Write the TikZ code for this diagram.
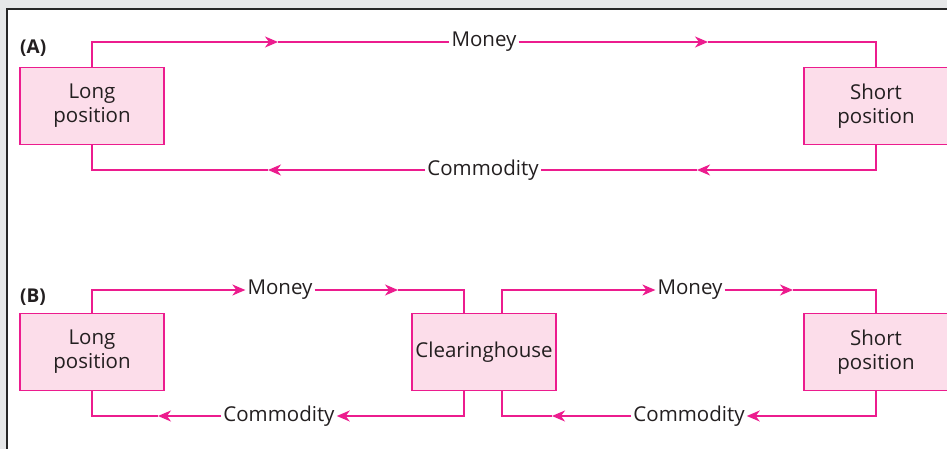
\documentclass[tikz,border=0pt]{standalone}
\usepackage{fontspec}
\setmainfont{Open Sans}
\usetikzlibrary{arrows.meta}
\definecolor{mag}{HTML}{EC1C8E}
\definecolor{boxfill}{HTML}{FCDDEA}
\definecolor{txt}{HTML}{231F20}
\definecolor{bg}{HTML}{E6E7E8}
\begin{document}
\begin{tikzpicture}[x=1pt,y=-1pt,
  posbox/.style={draw=mag,line width=1.6pt,fill=boxfill,minimum width=144pt,minimum height=77pt,
     inner sep=0pt,align=center,text=txt,font=\fontsize{20.5}{24}\selectfont},
  lbl/.style={inner sep=2pt,text=txt,font=\fontsize{20.5}{24}\selectfont},
  conn/.style={draw=mag,line width=1.3pt},
  arr/.style={conn,-{Stealth[length=13pt,width=11pt,inset=4pt]}},
  tag/.style={text=txt,font=\fontsize{19}{22}\selectfont\bfseries,anchor=west,inner sep=0pt}]
\useasboundingbox (0,0) rectangle (947,449);
\fill[bg] (0,0) rectangle (947,449);
\filldraw[fill=white,draw=black!85,line width=1.8pt] (7,9) rectangle (970,470);
% (A)
\node[tag] (tagA) at (20,48) {(A)};
\node[posbox] (longA) at (92,106) {Long\\position};
\node[posbox] (shortA) at (876,106) {Short\\position};
\node[lbl] (moneyA) at (484,42) {Money};
\node[lbl] (comA) at (483,170) {Commodity};
\coordinate (a1) at (278,42);
\coordinate (a2) at (708,42);
\coordinate (a3) at (697,170);
\coordinate (a4) at (268,170);
\draw[arr] (longA.north) |- (a1);
\draw[conn] (a1) -- (moneyA.west);
\draw[arr] (moneyA.east) -- (a2);
\draw[conn] (a2) -| (shortA.north);
\draw[arr] (shortA.south) |- (a3);
\draw[conn] (a3) -- (comA.east);
\draw[arr] (comA.west) -- (a4);
\draw[conn] (a4) -| (longA.south);
% (B)
\node[tag] (tagB) at (20,297) {(B)};
\node[posbox] (longB) at (92,352) {Long\\position};
\node[posbox] (clear) at (484,352) {Clearinghouse};
\node[posbox] (shortB) at (876,352) {Short\\position};
\node[lbl] (moneyB1) at (280,290) {Money};
\node[lbl] (moneyB2) at (690,290) {Money};
\node[lbl] (comB1) at (279,416) {Commodity};
\node[lbl] (comB2) at (689,416) {Commodity};
\coordinate (cTL) at ([xshift=-20pt]clear.north);
\coordinate (cTR) at ([xshift=18pt]clear.north);
\coordinate (cBL) at ([xshift=-20pt]clear.south);
\coordinate (cBR) at ([xshift=18pt]clear.south);
\coordinate (b1) at (398,290);
\coordinate (b2) at (793,290);
\coordinate (b3) at (158,416);
\coordinate (b4) at (552,416);
\draw[arr] (longB.north) |- (moneyB1.west);
\draw[arr] (moneyB1.east) -- (b1);
\draw[conn] (b1) -| (cTL);
\draw[arr] (cTR) |- (moneyB2.west);
\draw[arr] (moneyB2.east) -- (b2);
\draw[conn] (b2) -| (shortB.north);
\draw[arr] (cBL) |- (comB1.east);
\draw[arr] (comB1.west) -- (b3);
\draw[conn] (b3) -| (longB.south);
\draw[arr] (shortB.south) |- (comB2.east);
\draw[arr] (comB2.west) -- (b4);
\draw[conn] (b4) -| (cBR);
\end{tikzpicture}
\end{document}
